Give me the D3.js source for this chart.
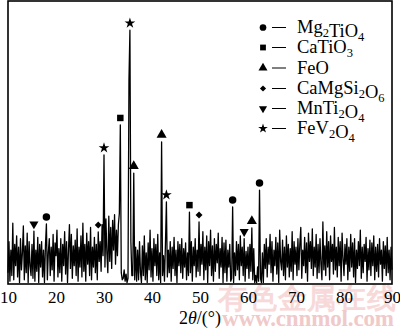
<!DOCTYPE html>
<html>
<head>
<meta charset="utf-8">
<script src="https://cdn.jsdelivr.net/npm/d3@7"></script>
<style>
  html, body { margin: 0; padding: 0; background: #fff; }
  svg { display: block; }
  text { font-family: "Liberation Serif", "Times New Roman", "DejaVu Serif", serif; }
</style>
</head>
<body>
<svg id="chart" width="400" height="329"></svg>
<script>
// XRD scan: 2θ from 10° to 90° in 0.2° steps, one intensity (a.u.) per step
const scanStart = 10;
const scanStep = 0.2;
const intensity = [
  40, 150, 10, 120, 30,   215, 15, 140, 65, 170,
  25, 130, 5, 160, 50,    110, 205, 15, 135, 40,
  180, 5, 150, 65, 30,    140, 20, 187, 10, 120,
  45, 165, 5, 140, 60,    150, 25, 120, 5, 135,
  212, 15, 110, 160, 30,  130, 50, 175, 10, 145,
  100, 190, 25, 125, 40,  160, 10, 140, 65, 185,
  35, 150, 5, 120, 210,   55, 175, 20, 135, 65,
  155, 30, 195, 10, 130,  60, 170, 25, 215, 45,
  140, 10, 180, 70, 150,  30, 200, 15, 130, 60,
  165, 40, 140, 15, 184,  80, 150, 45, 210, 100,
  456, 60, 230, 110, 40,  240, 80, 200, 55, 225,
  120, 245, 70, 190, 100, 210, 250, 562, 40, 15,
  20, 50, 10, 35, 5,      20, 720, 897, 150, 30,
  30, 392, 15, 130, 10,   120, 15, 150, 40, 5,
  135, 30, 170, 15, 110,  5, 145, 50, 190, 25,
  125, 10, 160, 65, 140,  30, 175, 15, 110, 5,
  502, 30, 100, 10, 140,  290, 25, 120, 40, 150,
  10, 130, 55, 165, 30,   120, 5, 150, 65, 140,
  40, 160, 20, 125, 60,   145, 15, 110, 30, 254,
  40, 150, 10, 130, 65,   160, 25, 120, 45, 219,
  30, 140, 70, 185, 15,   130, 50, 170, 5, 150,
  65, 190, 30, 135, 10,   160, 45, 140, 75, 180,
  20, 125, 60, 165, 5,    145, 40, 155, 10, 120,
  60, 140, 10, 20, 272,   5, 110, 30, 150, 50,
  140, 15, 170, 65, 130,  30, 160, 10, 115, 55,
  130, 20, 140, 45, 198,  15, 125, 5, 30, 5,
  60, 10, 332, 20, 5,     110, 5, 140, 55, 160,
  25, 130, 70, 175, 40,   150, 10, 120, 65, 165,
  35, 145, 5, 190, 80,    50, 155, 30, 130, 15,
  170, 60, 140, 25, 125,  45, 185, 15, 150, 70,
  130, 30, 160, 50, 140,  200, 20, 120, 65, 165,
  40, 145, 10, 180, 80,   150, 55, 195, 30, 130,
  60, 175, 20, 140, 40,   160, 70, 15, 219, 50,
  135, 30, 185, 60, 150,  15, 170, 80, 140, 35,
  200, 50, 130, 25, 165,  65, 150, 10, 180, 90,
  30, 140, 70, 160, 15,   130, 45, 175, 60, 145,
  25, 160, 5, 120, 55,    150, 65, 190, 20, 130,
  40, 140, 80, 165, 10,   125, 50, 155, 30, 145,
  65, 170, 15, 130, 45,   140, 25, 160, 70, 120,
  10, 150, 55, 135, 30,   165, 40, 120, 15, 130,
  50
];

// Phase legend
const phaseNames = ["Mg2TiO4", "CaTiO3", "FeO", "CaMgSi2O6", "MnTi2O4", "FeV2O4"];
const phaseSymbols = ["circle", "square", "triangle", "diamond", "triangleDown", "star"];

// Indexed reflections: phase index and 2θ of the peak it marks
const peakPhase = [4, 0, 3, 5, 1, 5, 2, 2, 5, 1, 3, 0, 4, 2, 0];
const peakAngle = [15.4, 18.0, 28.8, 30.0, 33.4, 35.4, 36.2, 42.0, 43.0, 47.8, 49.8, 56.8, 59.2, 60.8, 62.4];

const xTicks = [10, 20, 30, 40, 50, 60, 70, 80, 90];

const serif = "'Liberation Serif', 'Times New Roman', 'DejaVu Serif', serif";
const svg = d3.select("#chart");
const plotLeft = 8, plotRight = 392, plotTop = 1, plotBottom = 284;

const x = d3.scaleLinear().domain([10, 90]).range([plotLeft, plotRight]);
const y = d3.scaleLinear().domain([0, 1000]).range([plotBottom, plotTop]);

const data = intensity.map((v, i) => ({ a: scanStart + i * scanStep, v }));
const valueAt = a => intensity[Math.round((a - scanStart) / scanStep)];

// Watermark of the publishing site
svg.append("text")
  .attr("x", 218).attr("y", 308)
  .attr("font-family", "'Noto Sans CJK SC', sans-serif")
  .attr("font-weight", "bold")
  .attr("font-size", 29)
  .attr("fill", "#f7d9d9")
  .attr("textLength", 178)
  .text("有色金属在线");
svg.append("text")
  .attr("x", 222).attr("y", 326)
  .attr("font-family", serif)
  .attr("font-weight", "bold")
  .attr("font-size", 23)
  .attr("fill", "#f0c9c9")
  .attr("textLength", 172)
  .text("www.cnnmol.com");

// Diffraction trace
const line = d3.line().x(d => x(d.a)).y(d => y(d.v));
svg.append("path")
  .datum(data)
  .attr("d", line)
  .attr("fill", "none")
  .attr("stroke", "#000")
  .attr("stroke-width", 1.3)
  .attr("stroke-linejoin", "round");

// Symbol shapes; the diamond is a square turned by 45°
function symbolPath(name, size) {
  const types = {
    circle: d3.symbolCircle, square: d3.symbolSquare, triangle: d3.symbolTriangle,
    diamond: d3.symbolSquare, triangleDown: d3.symbolTriangle, star: d3.symbolStar
  };
  return d3.symbol().type(types[name]).size(size)();
}
const symbolTurn = { triangleDown: 180, diamond: 45 };
const symbolSize = { circle: 44, square: 42, triangle: 44, diamond: 24, triangleDown: 36, star: 36 };
const turn = name => symbolTurn[name] ? ` rotate(${symbolTurn[name]})` : "";

// Phase markers above the indexed peaks
peakAngle.forEach((a, i) => {
  const name = phaseSymbols[peakPhase[i]];
  svg.append("path")
    .attr("d", symbolPath(name, symbolSize[name]))
    .attr("transform", `translate(${x(a)},${y(valueAt(a)) - 7})` + turn(name))
    .attr("fill", "#000");
});

// Frame
svg.append("rect")
  .attr("x", plotLeft).attr("y", plotTop)
  .attr("width", plotRight - plotLeft).attr("height", plotBottom - plotTop)
  .attr("fill", "none")
  .attr("stroke", "#000")
  .attr("stroke-width", 1.6);

// X axis labels (no tick marks)
const xAxis = d3.axisBottom(x).tickValues(xTicks).tickSize(0).tickPadding(0).tickFormat(d3.format("d"));
const gx = svg.append("g").attr("transform", `translate(0,${plotBottom})`).call(xAxis);
gx.attr("font-family", serif);
gx.select(".domain").remove();
gx.selectAll("text")
  .attr("font-family", serif)
  .attr("font-size", 17)
  .attr("fill", "#000")
  .attr("dy", 0)
  .attr("y", 19);

// Axis title 2θ/(°)
const title = svg.append("text")
  .attr("x", 200).attr("y", 324)
  .attr("text-anchor", "middle")
  .attr("font-family", serif)
  .attr("font-size", 18)
  .attr("fill", "#000");
title.append("tspan").text("2");
title.append("tspan").attr("font-style", "italic").text("θ");
title.append("tspan").text("/(°)");

// Legend
const legendY = [33, 53, 73.5, 94, 114, 134];
phaseNames.forEach((nm, i) => {
  const cy = legendY[i] - 5.5;
  const sname = phaseSymbols[i];
  svg.append("path")
    .attr("d", symbolPath(sname, symbolSize[sname] * 0.8))
    .attr("transform", `translate(263,${cy})` + turn(sname))
    .attr("fill", "#000");
  svg.append("line")
    .attr("x1", 272).attr("x2", 286)
    .attr("y1", cy).attr("y2", cy)
    .attr("stroke", "#000").attr("stroke-width", 1);
  const t = svg.append("text")
    .attr("x", 297).attr("y", legendY[i])
    .attr("font-family", serif)
    .attr("font-size", 18.5)
    .attr("fill", "#000");
  // chemical formula: digits become subscripts
  nm.match(/[A-Za-z]+|\d+/g).forEach(part => {
    if (/\d/.test(part)) {
      t.append("tspan").attr("font-size", 12.5).attr("dy", 4).text(part);
      t.append("tspan").attr("dy", -4).text("");
    } else {
      t.append("tspan").text(part);
    }
  });
});
</script>
</body>
</html>
